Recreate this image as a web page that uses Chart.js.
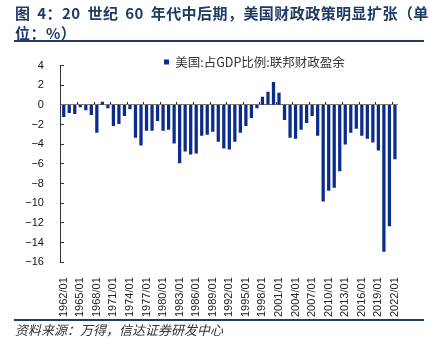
<!DOCTYPE html>
<html><head><meta charset="utf-8">
<script src="https://cdn.jsdelivr.net/npm/chart.js@4"></script>
<style>
html,body{margin:0;padding:0;background:#fff;}
body{width:430px;height:346px;position:relative;overflow:hidden;}
#title{position:absolute;left:15px;top:3px;font:bold 15px "Noto Sans CJK SC";color:#1f3a64;line-height:20px;white-space:nowrap;word-spacing:3px;letter-spacing:0.45px;z-index:2;}
#rule1{position:absolute;left:14px;top:40px;width:410px;height:2px;background:#1f3a64;z-index:2;}
#box{position:absolute;left:0;top:39px;width:430px;height:285px;z-index:1;}
#rule2{position:absolute;left:14px;top:319px;width:410px;height:2px;background:#1f3a64;z-index:2;}
#src{position:absolute;left:15px;top:321px;font:italic 13px "Noto Sans CJK SC";color:#333;line-height:18px;z-index:2;}
</style></head>
<body>
<div id="title">图 4：20 世纪 60 年代中后期，美国财政政策明显扩张（单<br>位：%）</div>
<div id="rule1"></div>
<div id="box"><canvas id="c"></canvas></div>
<div id="rule2"></div>
<div id="src">资料来源：万得，信达证券研发中心</div>
<script>
const years = [];
for (let y = 1962; y <= 2022; y++) years.push(y);
const categories = years.map(y => y + '/01');
const seriesName = '美国:占GDP比例:联邦财政盈余';
const surplus = [
  -1.2, -0.8, -0.9, -0.2, -0.5, -1.0, -2.8, 0.3, -0.3, -2.1,
  -1.9, -1.1, -0.4, -3.3, -4.1, -2.6, -2.6, -1.6, -2.6, -2.5,
  -3.9, -5.9, -4.7, -5.0, -4.9, -3.1, -3.0, -2.7, -3.7, -4.4,
  -4.5, -3.7, -2.8, -2.1, -1.3, -0.3, 0.8, 1.3, 2.3, 1.2,
  -1.5, -3.3, -3.4, -2.5, -1.8, -1.1, -3.1, -9.8, -8.7, -8.4,
  -6.7, -4.0, -2.8, -2.4, -3.1, -3.4, -3.8, -4.6, -14.9, -12.3,
  -5.5
];
const yMin = -16, yMax = 4, yStep = 2;
const labelEvery = 3;

// place the legend line just above the plot, to the right, as in the source
const legendShift = {
  id: 'legendShift',
  afterLayout(chart) {
    const lg = chart.legend;
    if (!lg) return;
    const dx = 164 - lg.left;
    lg.left += dx; lg.right += dx;
    const fs = lg.options.labels.font.size || 12;
    const newTop = chart.chartArea.top - 3.5 - fs / 2;
    const dy = newTop - lg.top;
    lg.top += dy; lg.bottom += dy;
  }
};

new Chart(document.getElementById('c'), {
  type: 'bar',
  data: {
    labels: categories,
    datasets: [{
      label: seriesName,
      data: surplus,
      backgroundColor: '#0c2c8a',
      borderWidth: 0,
      barThickness: 2.6,
      xAxisID: 'x',
      yAxisID: 'y'
    }]
  },
  options: {
    responsive: true,
    maintainAspectRatio: false,
    animation: false,
    layout: { padding: { left: 5.3, right: 32.3, top: 0, bottom: 0 } },
    plugins: {
      legend: {
        position: 'top',
        align: 'start',
        labels: {
          boxWidth: 5, boxHeight: 5, padding: 0,
          color: '#333',
          font: { family: '"Noto Sans CJK SC"', size: 12.5 }
        }
      },
      title: { display: false },
      tooltip: { enabled: false }
    },
    scales: {
      x: {
        type: 'category',
        position: 'bottom',
        offset: true,
        grid: { display: false },
        border: { display: false },
        ticks: {
          autoSkip: false,
          minRotation: 90, maxRotation: 90,
          padding: 7,
          color: '#222',
          font: { family: '"Liberation Sans", Arial', size: 11 },
          callback: (v, i) => (i % labelEvery === 0 ? categories[i] : '')
        }
      },
      xz: {
        type: 'category',
        position: { y: 0 },
        offset: true,
        grid: {
          display: true, offset: true, drawOnChartArea: false, drawTicks: true,
          tickLength: -3, lineWidth: 1,
          color: (ctx) => (ctx.index % labelEvery === 0 ? '#222' : 'rgba(0,0,0,0)')
        },
        border: { display: true, color: '#777', width: 1 },
        ticks: { display: false, autoSkip: false }
      },
      y: {
        type: 'linear',
        position: 'left',
        min: yMin, max: yMax,
        grid: { display: true, drawOnChartArea: false, drawTicks: true, tickLength: -3, color: '#333' },
        border: { display: true, color: '#333', width: 1 },
        ticks: {
          stepSize: yStep,
          padding: 20,
          color: '#111',
          font: { family: '"Liberation Sans", Arial', size: 11 },
          callback: (v) => String(v).replace('-', '\u2212')
        }
      }
    }
  },
  plugins: [legendShift]
});
</script>
</body></html>
